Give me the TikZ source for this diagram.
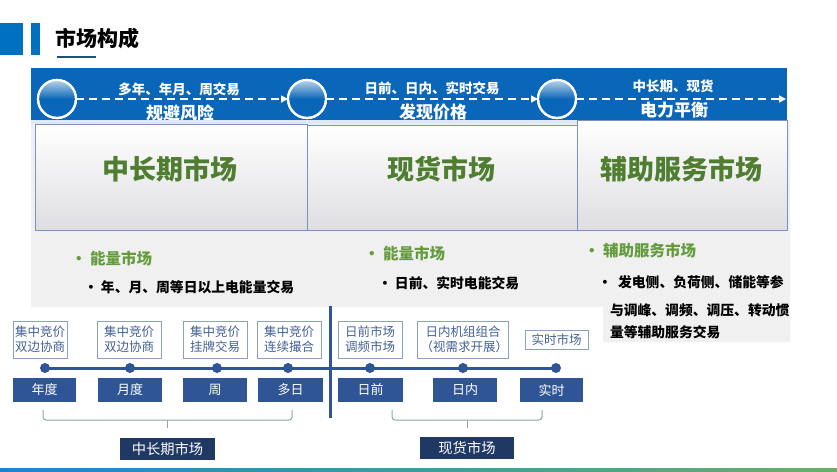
\documentclass[tikz,border=0pt]{standalone}
\usepackage{fontspec}
\setmainfont{Noto Sans CJK SC}
\usetikzlibrary{arrows.meta,shadings}
\definecolor{hdrblue}{RGB}{10,102,184}
\definecolor{sqblue}{RGB}{0,112,192}
\definecolor{navy}{RGB}{31,56,100}
\definecolor{barblue}{RGB}{47,85,151}
\definecolor{boxtxt}{RGB}{68,98,150}
\definecolor{boxline}{RGB}{140,160,195}
\definecolor{mgreen}{RGB}{80,126,48}
\definecolor{lgreen}{RGB}{100,155,60}
\definecolor{bggray}{RGB}{240,240,240}
\definecolor{pline}{RGB}{125,145,190}
\definecolor{brk}{RGB}{140,170,155}
\definecolor{uline}{RGB}{31,78,121}
\definecolor{strip}{RGB}{222,232,248}
\begin{document}
\begin{tikzpicture}[x=1pt,y=-1pt,
  every node/.style={inner sep=0pt,outer sep=0pt},
  ttl/.style={text=black,font=\fontsize{21}{21}\selectfont\bfseries},
  hsmall/.style={text=white,font=\fontsize{13.5}{14}\selectfont\bfseries},
  hbig/.style={text=white,font=\fontsize{17}{18}\selectfont\bfseries},
  mkt/.style={text=mgreen,font=\fontsize{27}{28}\selectfont\bfseries},
  bhead/.style={text=lgreen,font=\fontsize{15.5}{16}\selectfont\bfseries},
  bitem/.style={text=black,font=\fontsize{13.8}{14}\selectfont\bfseries},
  tbox/.style={draw=boxline,line width=0.8pt,text=boxtxt,font=\fontsize{12.5}{15}\selectfont,align=center,minimum height=37pt},
  tbar/.style={fill=barblue,text=white,font=\fontsize{13}{13}\selectfont,minimum height=24pt},
  tlabel/.style={fill=navy,text=white,font=\fontsize{14.3}{14}\selectfont,minimum height=22pt},
  tdot/.style={circle,fill=barblue,minimum size=10pt},
  circ/.style={circle,draw=white,line width=2.2pt,minimum size=38pt,fill=hdrblue},
  darrow/.style={draw=white,line width=1.5pt,dash pattern=on 8pt off 5pt,-{Triangle[length=7pt,width=7pt]}},
  brack/.style={draw=brk,line width=1pt,rounded corners=3pt},
  panel/.style={draw=pline,line width=0.6pt,top color=white,bottom color={rgb,255:red,222;green,222;blue,226}}
]
\useasboundingbox (0,0) rectangle (837,471);
\fill[white] (0,0) rectangle (837,471);
% title
\fill[sqblue] (0,23) rectangle (23,55);
\fill[sqblue] (31,23) rectangle (40,55);
\node[ttl,anchor=west] (title) at (55,38) {市场构成};
\draw[uline,line width=2pt] (57,57) -- (96,57);
% gray background
\fill[bggray] (31,120) -- (790,120) -- (790,342) -- (603,342) -- (603,307) -- (31,307) -- cycle;
% header band
\fill[hdrblue] (31,68) rectangle (787,120);
\node[circ] (c1) at (57,99) {};
\node[circ] (c2) at (307,99) {};
\node[circ] (c3) at (557,99) {};
\foreach \c in {c1,c2,c3}{
  \begin{scope}
    \clip (\c.center) circle (18pt);
    \shade[top color=hdrblue!25!white,bottom color=hdrblue] ([xshift=-20pt,yshift=20pt]\c.center) rectangle ([xshift=20pt,yshift=0pt]\c.center);
  \end{scope}
  \draw[white,line width=2.2pt] (\c.center) circle (19pt);
}
\coordinate (e3) at (786,99);
\draw[darrow] (c1) -- (c2);
\draw[darrow] (c2) -- (c3);
\draw[darrow] (c3) -- (e3);
\node[hsmall] (h1a) at (179,89) {多年、年月、周交易};
\node[hbig] (h1b) at (180,113) {规避风险};
\node[hsmall] (h2a) at (432,88) {日前、日内、实时交易};
\node[hbig] (h2b) at (433,112) {发现价格};
\node[hsmall] (h3a) at (673,86) {中长期、现货};
\node[hbig] (h3b) at (674,110) {电力平衡};
% panels
\fill[strip] (31,120) rectangle (787,124);
\draw[panel] (35,124) rectangle (307,230);
\draw[panel] (307,125) rectangle (577,230);
\draw[panel] (577,120) rectangle (787,230);
\node[mkt] (m1) at (170,169) {中长期市场};
\node[mkt] (m2) at (441,169) {现货市场};
\node[mkt] (m3) at (681,169) {辅助服务市场};
% bullets
\node[bhead,anchor=west] (b1) at (71,258) {• 能量市场};
\node[bitem,anchor=west] (b1i) at (84,287) {• 年、月、周等日以上电能量交易};
\node[bhead,anchor=west] (b2) at (364,253) {• 能量市场};
\node[bitem,anchor=west] (b2i) at (378,283) {• 日前、实时电能交易};
\node[bhead,anchor=west] (b3) at (584,251) {• 辅助服务市场};
\node[bitem,anchor=west] (b3i) at (598,282) {•\ \ 发电侧、负荷侧、储能等参};
\begin{scope}
\clip (600,295) rectangle (790,325);
\node[bitem,anchor=west] (b3j) at (610,310) {与调峰、调频、调压、转动惯};
\end{scope}
\node[bitem,anchor=west] (b3k) at (610,332) {量等辅助服务交易};
% timeline boxes
\node[tbox,minimum width=54pt] (x1) at (40,339.5) {集中竞价\\双边协商};
\node[tbox,minimum width=64pt] (x2) at (129,339.5) {集中竞价\\双边协商};
\node[tbox,minimum width=64pt] (x3) at (215,339.5) {集中竞价\\挂牌交易};
\node[tbox,minimum width=64pt] (x4) at (289,339.5) {集中竞价\\连续撮合};
\node[tbox,minimum width=64pt] (x5) at (370,339.5) {日前市场\\调频市场};
\node[tbox,minimum width=90pt] (x6) at (463,339.5) {日内机组组合\\\ （视需求开展）};
\node[tbox,minimum width=63pt,minimum height=19pt] (x7) at (556.5,339.5) {实时市场};
% separator
\coordinate (s1) at (330,306);
\coordinate (s2) at (330,418);
\draw[barblue,line width=3pt] (s1) -- (s2);
% dots and line
\node[tdot] (d1) at (45,368) {};
\node[tdot] (d2) at (130,368) {};
\node[tdot] (d3) at (217,368) {};
\node[tdot] (d4) at (288,368) {};
\node[tdot] (d5) at (370,368) {};
\node[tdot] (d6) at (463,368) {};
\node[tdot] (d7) at (556,368) {};
\draw[barblue,line width=3pt] (d1.center) -- (d7.center);
% bars
\node[tbar,minimum width=63pt] (y1) at (44.5,390) {年度};
\node[tbar,minimum width=64pt] (y2) at (130,390) {月度};
\node[tbar,minimum width=64pt] (y3) at (215,390) {周};
\node[tbar,minimum width=65pt] (y4) at (290.5,390) {多日};
\node[tbar,minimum width=65pt] (y5) at (370.5,390) {日前};
\node[tbar,minimum width=64pt] (y6) at (465,390) {日内};
\node[tbar,minimum width=63pt] (y7) at (551.5,390) {实时};
% brackets and labels
\node[tlabel,minimum width=95pt] (l1) at (167.5,449) {中长期市场};
\node[tlabel,minimum width=94pt] (l2) at (467,448) {现货市场};
\draw[brack] (43,410) -- (43,420) -- (292,420) -- (292,410);
\draw[brk,line width=1pt] (167,420) -- (167,428);
\draw[brack] (392,410) -- (392,420) -- (542,420) -- (542,410);
\draw[brk,line width=1pt] (467,420) -- (467,428);
% bottom line
\shade[left color={rgb,255:red,30;green,132;blue,208},right color={rgb,255:red,104;green,176;blue,104}] (0,468.5) rectangle (837,471);
\end{tikzpicture}
\end{document}
